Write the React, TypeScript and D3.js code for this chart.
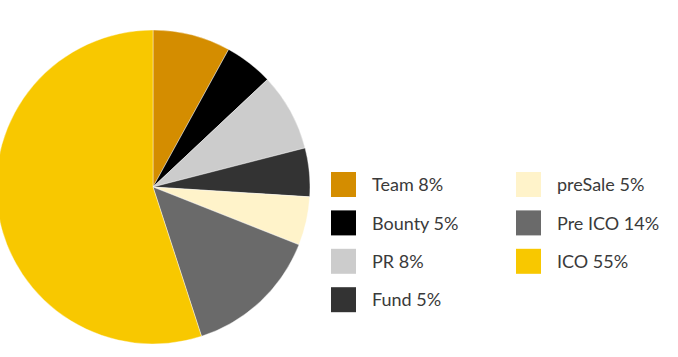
import React from "react";
import * as d3 from "d3";

const categories = ["Team", "Bounty", "PR", "Fund", "preSale", "Pre ICO", "ICO"];
const values = [8, 5, 8, 5, 5, 14, 55];
const colors = ["#D48D00", "#000000", "#CCCCCC", "#333333", "#FFF3CA", "#6A6A6A", "#F8C800"];
const legendColumns = [[0, 1, 2, 3], [4, 5, 6]];

export default function App() {
  const W = 678, H = 357;
  const cx = 153, cy = 187, r = 157;
  const data = categories.map((c, i) => ({ c, v: values[i], col: colors[i] }));
  const pie = d3.pie<any>().value((d) => d.v).sort(null)(data);
  const arc = d3.arc<any>().innerRadius(0).outerRadius(r);
  const colX = [331, 516];
  const textX = [372, 557];
  const rowY0 = 172, rowStep = 38.4, sq = 25;
  return (
    <svg width={W} height={H} style={{ position: "absolute", left: 0, top: 0 }}>
      <rect width={W} height={H} fill="#fff" />
      <g transform={`translate(${cx},${cy})`}>
        {pie.map((p, i) => (
          <path key={i} d={arc(p) as string} fill={p.data.col} stroke="#fff" strokeWidth={0.4} />
        ))}
      </g>
      {legendColumns.map((col, ci) =>
        col.map((idx, ri) => {
          const y = rowY0 + ri * rowStep;
          return (
            <g key={`${ci}-${ri}`}>
              <rect x={colX[ci]} y={y} width={sq} height={sq} fill={colors[idx]} />
              <text x={textX[ci]} y={y + sq / 2} dy="0.37em" fontFamily="Lato, 'Open Sans', sans-serif" fontSize={18} fill="#3a3a3a">
                {`${categories[idx]} ${values[idx]}%`}
              </text>
            </g>
          );
        })
      )}
    </svg>
  );
}
